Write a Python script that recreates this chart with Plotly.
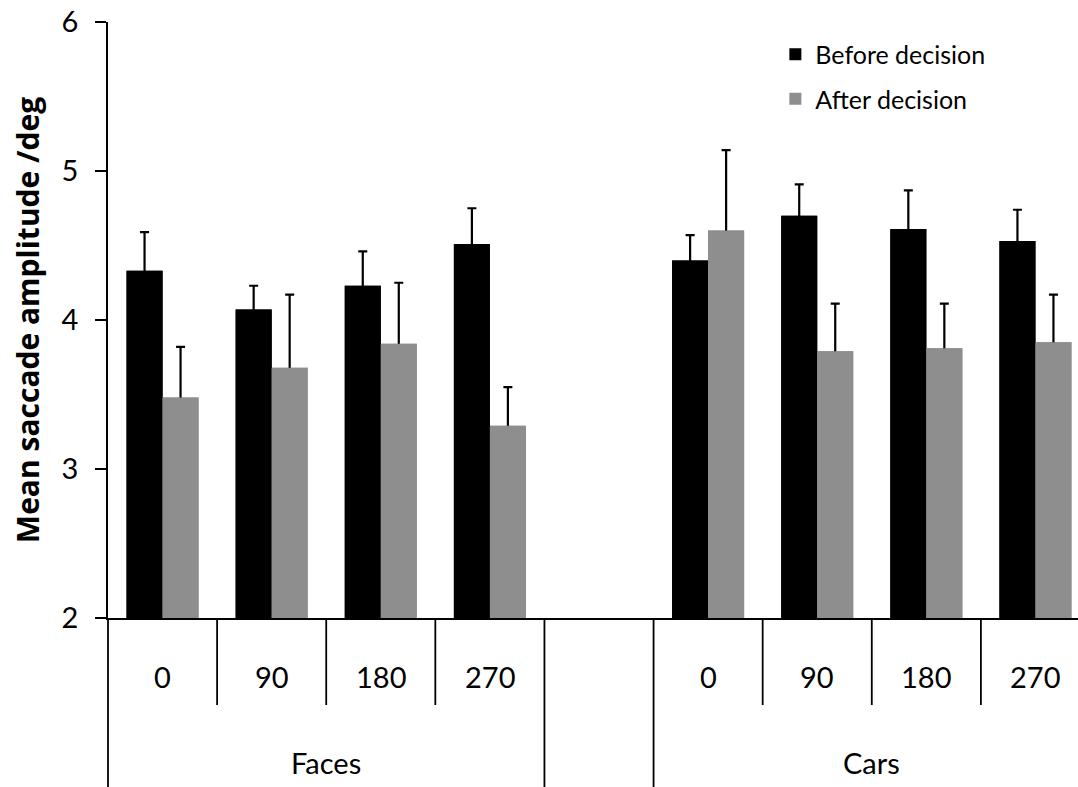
import plotly.graph_objects as go

# Mean saccade amplitude (deg) per stimulus rotation, split by decision phase
groups = ["Faces", "Cars"]
rotations = ["0", "90", "180", "270"]

before_mean = [4.33, 4.07, 4.23, 4.51, 4.40, 4.70, 4.61, 4.53]
before_err = [0.26, 0.16, 0.23, 0.24, 0.17, 0.21, 0.26, 0.21]
after_mean = [3.48, 3.68, 3.84, 3.29, 4.60, 3.79, 3.81, 3.85]
after_err = [0.34, 0.49, 0.41, 0.26, 0.54, 0.32, 0.30, 0.32]

y_ticks = [2, 3, 4, 5, 6]
y_min, y_max = 2, 6

FONT = "Lato, 'Open Sans', sans-serif"
TITLE_FONT = "'Open Sans', Lato, sans-serif"
BLACK = "#000000"
GREY = "#8e8e8e"

# one empty slot separates the two stimulus groups
slot_step = len(rotations) + 1
x_pos = [g * slot_step + i for g in range(len(groups)) for i in range(len(rotations))]
last_slot = max(x_pos)

fig = go.Figure()


def add_series(means, errs, name, color, group):
    heights = [v - y_min for v in means]
    # plus-only error bars: the lower arm runs down to the axis and is
    # hidden by a second copy of the bars drawn on top
    fig.add_trace(go.Bar(
        x=x_pos, y=heights, base=y_min, name=name, offsetgroup=group,
        legendgroup=group, marker=dict(color=color, line=dict(width=0)),
        error_y=dict(type="data", symmetric=False, array=errs,
                     arrayminus=heights, color=BLACK, thickness=2.2, width=4.5),
    ))


def add_cover(means, color, group):
    heights = [v - y_min for v in means]
    fig.add_trace(go.Bar(
        x=x_pos, y=heights, base=y_min, offsetgroup=group, legendgroup=group,
        marker=dict(color=color, line=dict(width=0)),
        showlegend=False, hoverinfo="skip",
    ))


add_series(before_mean, before_err, "Before decision", BLACK, "before")
add_series(after_mean, after_err, "After decision", GREY, "after")
add_cover(before_mean, BLACK, "before")
add_cover(after_mean, GREY, "after")

plot_top, plot_bottom, fig_h = 22, 618, 787
plot_h = plot_bottom - plot_top


def py(px):
    """pixel row below the plot -> paper y"""
    return -(px - plot_bottom) / plot_h


LINE = dict(color=BLACK, width=1.8)
shapes = []
# full-height line continuing the value axis
shapes.append(dict(type="line", xref="paper", yref="paper", x0=0, x1=0,
                   y0=0, y1=py(fig_h + 5), line=LINE))
for g in range(len(groups)):
    start = g * slot_step
    # short separators between rotations
    for i in range(1, len(rotations)):
        xs = start + i - 0.5
        shapes.append(dict(type="line", xref="x", yref="paper", x0=xs, x1=xs,
                           y0=0, y1=py(705), line=LINE))
# long separators around the empty slot
for xs in [len(rotations) - 0.5, len(rotations) + 0.5, last_slot + 0.5]:
    shapes.append(dict(type="line", xref="x", yref="paper", x0=xs, x1=xs,
                       y0=0, y1=py(fig_h + 5), line=LINE))

annotations = []
for g, gname in enumerate(groups):
    start = g * slot_step
    for i, r in enumerate(rotations):
        annotations.append(dict(x=start + i, y=py(676), xref="x", yref="paper",
                                text=r, showarrow=False, yanchor="middle",
                                font=dict(size=29, color=BLACK, family=FONT)))
    annotations.append(dict(x=start + (len(rotations) - 1) / 2, y=py(762),
                            xref="x", yref="paper", text=gname, showarrow=False,
                            yanchor="middle",
                            font=dict(size=29, color=BLACK, family=FONT)))

fig.update_layout(
    width=1078, height=fig_h,
    margin=dict(l=108, r=0, t=plot_top, b=fig_h - plot_bottom),
    paper_bgcolor="white", plot_bgcolor="white",
    barmode="group", bargap=0.34, bargroupgap=0,
    font=dict(family=FONT, color=BLACK),
    showlegend=True,
    legend=dict(x=0.688, y=0.984, xanchor="left", yanchor="top",
                font=dict(size=25, family=FONT, color=BLACK),
                bgcolor="rgba(0,0,0,0)", traceorder="grouped",
                tracegroupgap=9, itemwidth=30),
    shapes=shapes, annotations=annotations,
    xaxis=dict(range=[-0.5, last_slot + 0.5 - 12 / 109.1], showticklabels=False,
               ticks="", showgrid=False, zeroline=False,
               showline=True, linecolor=BLACK, linewidth=1.8),
    yaxis=dict(range=[y_min, y_max], tickvals=y_ticks, ticks="outside",
               ticklen=11, tickwidth=1.8, tickcolor=BLACK,
               showline=True, linecolor=BLACK, linewidth=1.8,
               showgrid=False, zeroline=False,
               tickfont=dict(size=29, family=FONT, color=BLACK),
               ticklabelstandoff=11,
               title=dict(text="Mean saccade amplitude /deg", standoff=13,
                          font=dict(size=30, family=TITLE_FONT, color=BLACK,
                                    weight="bold"))),
)

fig.write_html("out.html")
